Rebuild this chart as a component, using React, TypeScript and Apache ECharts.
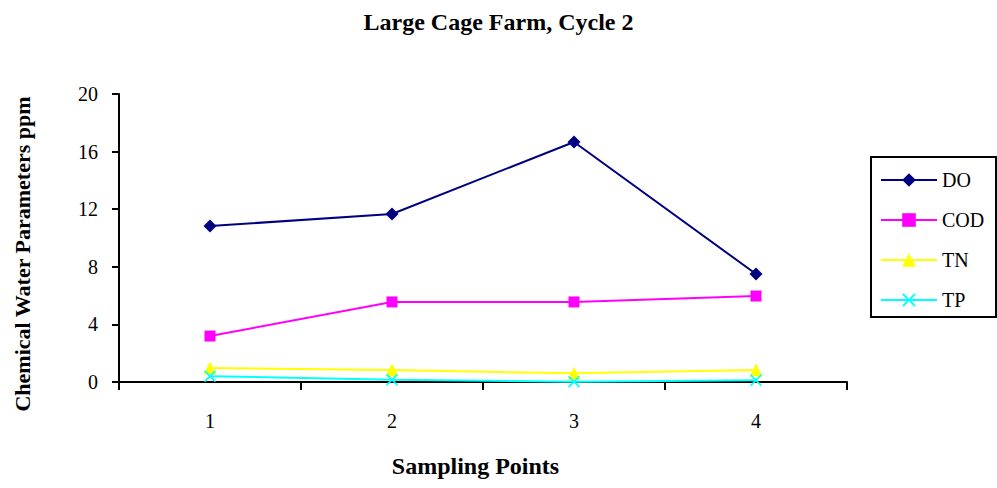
import React, { useEffect, useRef } from "react";
import * as echarts from "echarts";

const categories = ["1", "2", "3", "4"];
const doValues = [10.83, 11.67, 16.67, 7.5];
const codValues = [3.19, 5.56, 5.56, 5.97];
const tnValues = [0.97, 0.83, 0.6, 0.83];
const tpValues = [0.4, 0.16, 0.02, 0.12];
const seriesNames = ["DO", "COD", "TN", "TP"];
const yTitle = "Chemical Water Parameters ppm";

const FONT = "Times New Roman, Liberation Serif, serif";
const X_SYMBOL =
  "path://M0,1 L1,0 L5,4 L9,0 L10,1 L6,5 L10,9 L9,10 L5,6 L1,10 L0,9 L4,5 Z";

export default function App() {
  const ref = useRef<HTMLDivElement>(null);
  useEffect(() => {
    if (!ref.current) return;
    const chart = echarts.init(ref.current, undefined, { renderer: "svg" });
    const mk = (name: string, data: number[], color: string, symbol: string, size: number) => ({
      name,
      type: "line",
      data,
      symbol,
      symbolSize: size,
      showSymbol: true,
      lineStyle: { color, width: 2 },
      itemStyle: { color, borderColor: color, borderWidth: 0 },
      emphasis: { disabled: true },
    });
    chart.setOption({
      animation: false,
      backgroundColor: "#ffffff",
      textStyle: { fontFamily: FONT },
      title: {
        text: "Large Cage Farm, Cycle 2",
        left: "center",
        top: 5,
        textStyle: { fontFamily: FONT, fontSize: 24, fontWeight: "bold", color: "#000" },
      },
      graphic: [
        {
          type: "rect",
          shape: { x: 871, y: 157, width: 125, height: 160 },
          style: { fill: "#fff", stroke: "#000", lineWidth: 2 },
          z: 0,
        },
        {
          type: "text",
          x: 22,
          y: 254,
          rotation: Math.PI / 2,
          style: {
            text: yTitle,
            font: "bold 22px " + FONT,
            fill: "#000",
            align: "center",
            verticalAlign: "middle",
          },
        },
      ],
      legend: {
        orient: "vertical",
        left: 880,
        top: 170,
        padding: 0,
        itemWidth: 56,
        itemHeight: 17,
        itemGap: 20,
        z: 10,
        data: seriesNames,
        textStyle: { fontFamily: FONT, fontSize: 20, lineHeight: 20, color: "#000" },
      },
      grid: { left: 119, right: 150, top: 94, bottom: 106 },
      xAxis: {
        type: "category",
        data: categories,
        boundaryGap: true,
        name: "Sampling Points",
        nameLocation: "middle",
        nameGap: 72,
        nameTextStyle: {
          fontFamily: FONT,
          fontSize: 24,
          fontWeight: "bold",
          color: "#000",
          padding: [0, 15, 0, 0],
        },
        axisLine: { lineStyle: { color: "#000", width: 2 } },
        axisTick: { show: true, length: 8, lineStyle: { color: "#000", width: 2 } },
        axisLabel: { margin: 29, fontFamily: FONT, fontSize: 20, color: "#000" },
        splitLine: { show: false },
      },
      yAxis: {
        type: "value",
        min: 0,
        max: 20,
        interval: 4,
        axisLine: { show: true, lineStyle: { color: "#000", width: 2 } },
        axisTick: { show: true, length: 7, lineStyle: { color: "#000", width: 2 } },
        axisLabel: { margin: 21, fontFamily: FONT, fontSize: 20, color: "#000" },
        splitLine: { show: false },
      },
      series: [
        mk("DO", doValues, "#000080", "diamond", 13),
        mk("COD", codValues, "#FF00FF", "rect", 11),
        mk("TN", tnValues, "#FFFF00", "triangle", 13),
        mk("TP", tpValues, "#00FFFF", X_SYMBOL, 12),
      ],
    });
    return () => chart.dispose();
  }, []);
  return (
    <div
      ref={ref}
      style={{ position: "fixed", left: 0, top: 0, width: 997, height: 488 }}
    />
  );
}
